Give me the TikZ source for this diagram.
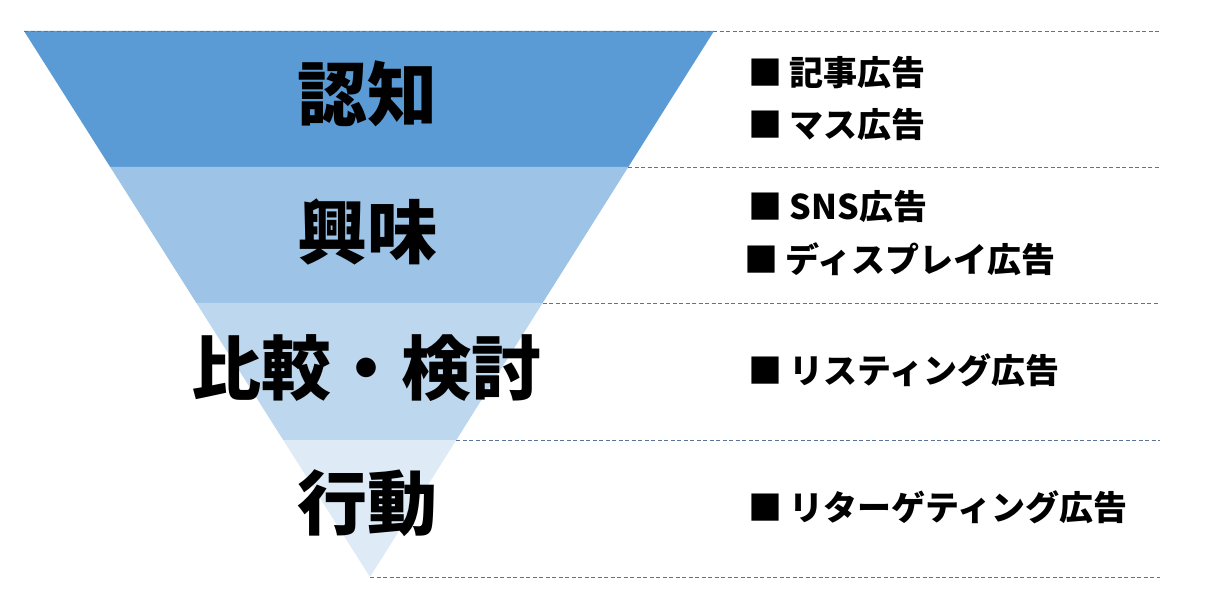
\documentclass[tikz,border=0pt]{standalone}
\usepackage{fontspec}
\newfontfamily\cjk{Noto Sans CJK JP}
\definecolor{bandA}{HTML}{5B9BD5}
\definecolor{bandB}{HTML}{9DC3E6}
\definecolor{bandC}{HTML}{BDD7EE}
\definecolor{bandD}{HTML}{DEEBF7}
\definecolor{sepline}{HTML}{5B7394}
\tikzset{
  band/.style={draw=none},
  sep/.style={draw=sepline, line width=0.9pt, dash pattern=on 4pt off 2.5pt},
  stage/.style={font=\cjk\bfseries\fontsize{70}{70}\selectfont, anchor=base, inner sep=0pt},
  item/.style={font=\cjk\bfseries\fontsize{34}{34}\selectfont, anchor=base west, inner sep=0pt}
}
\begin{document}
\begin{tikzpicture}[x=1pt,y=-1pt]
\useasboundingbox (0,0) rectangle (1220,609);
\fill[white] (0,0) rectangle (1220,609);
% funnel corner coordinates
\coordinate (L0) at (24,31);    \coordinate (R0) at (714,31);
\coordinate (L1) at (110.2,167); \coordinate (R1) at (628.3,167);
\coordinate (L2) at (196.4,303); \coordinate (R2) at (542.6,303);
\coordinate (L3) at (283.2,440); \coordinate (R3) at (456.3,440);
\coordinate (A) at (370,577);
% bands
\fill[band, bandA] (L0) -- (R0) -- (R1) -- (L1) -- cycle;
\fill[band, bandB] (L1) -- (R1) -- (R2) -- (L2) -- cycle;
\fill[band, bandC] (L2) -- (R2) -- (R3) -- (L3) -- cycle;
\fill[band, bandD] (L3) -- (R3) -- (A) -- cycle;
% dashed separators
\coordinate (E0) at (1160,31);
\coordinate (E1) at (1160,167);
\coordinate (E2) at (1160,303);
\coordinate (E3) at (1160,440);
\coordinate (E4) at (1160,577);
\draw[sep] (L0) -- (E0);
\draw[sep] (R1) -- (E1);
\draw[sep] (R2) -- (E2);
\draw[sep] (R3) -- (E3);
\draw[sep] (A) -- (E4);
% stage labels
\node[stage] (s1) at (367,121) {認知};
\node[stage] (s2) at (367,259) {興味};
\node[stage] (s3) at (366,394) {比較・検討};
\node[stage] (s4) at (367,529) {行動};
% items
\node[item] (i1) at (748,86) {■ 記事広告};
\node[item] (i2) at (748,138) {■ マス広告};
\node[item] (i3) at (748,220) {■ SNS広告};
\node[item] (i4) at (744,273) {■ ディスプレイ広告};
\node[item] (i5) at (748,383) {■ リスティング広告};
\node[item] (i6) at (748,520) {■ リターゲティング広告};
\end{tikzpicture}
\end{document}
